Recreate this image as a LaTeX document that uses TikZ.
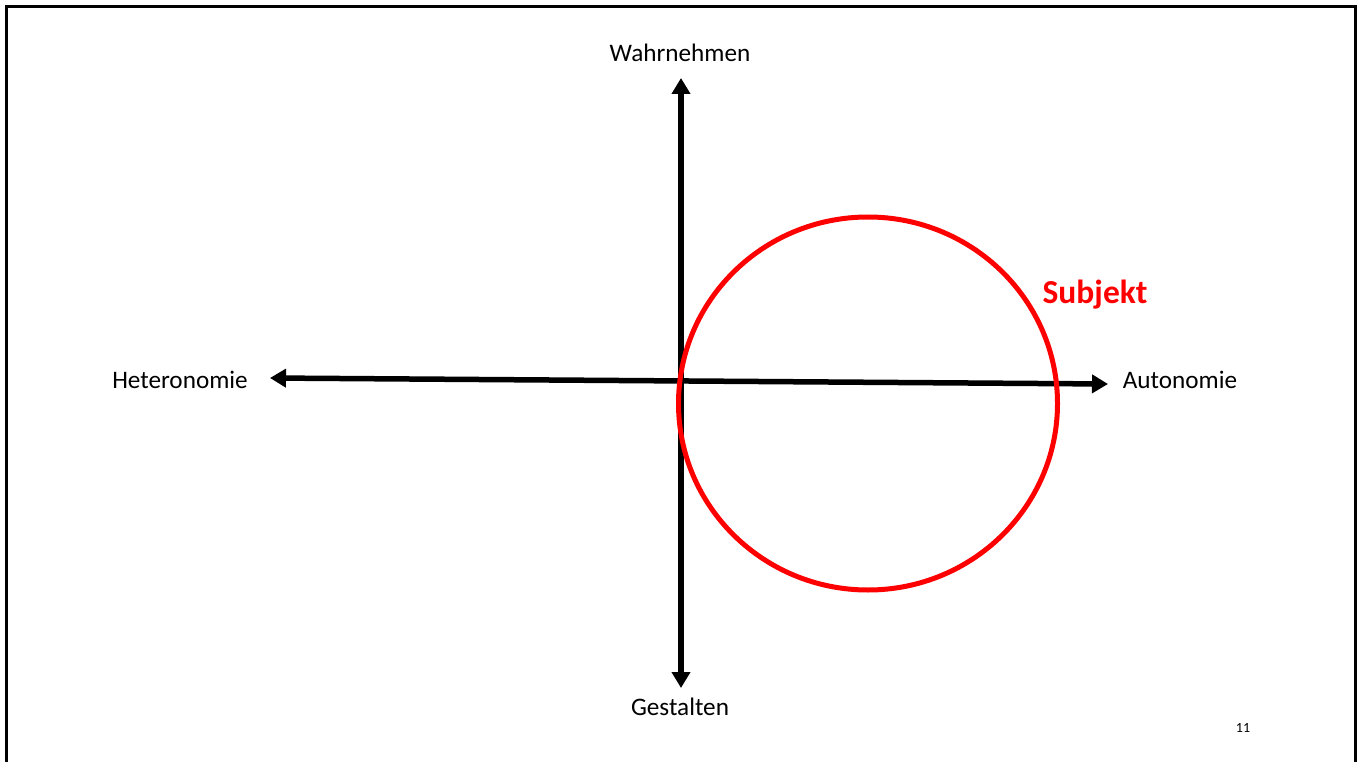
\documentclass[tikz,border=0pt]{standalone}
\usepackage{fontspec}
\setmainfont{Carlito}
\usetikzlibrary{arrows.meta}
\begin{document}
\begin{tikzpicture}[x=1pt,y=-1pt,
  axis/.style={line width=5.5pt,{Triangle[length=16pt,width=18pt]}-{Triangle[length=16pt,width=18pt]}},
  lbl/.style={font=\fontsize{25.2}{29}\selectfont,inner sep=0pt}]
\useasboundingbox (0,0) rectangle (1362,762);
\draw[line width=3pt] (6.5,770) -- (6.5,6.5) -- (1355.5,6.5) -- (1355.5,770);
\node[lbl] (wahr) at (680,53) {Wahrnehmen};
\node[lbl] (gest) at (680,707) {Gestalten};
\node[lbl] (het) at (180,380) {Heteronomie};
\node[lbl] (aut) at (1180,380) {Autonomie};
\node[font=\fontsize{33.5}{38}\selectfont\bfseries,text=red,inner sep=0pt] (subj) at (1095,295) {Subjekt};
\node[font=\fontsize{14}{16}\selectfont,inner sep=0pt] (page) at (1243,728) {11};
\coordinate (top) at (681,78);
\coordinate (bot) at (681,688);
\coordinate (left) at (270,378);
\coordinate (right) at (1108,384);
\draw[axis] (bot) -- (top);
\draw[axis] (left) -- (right);
\draw[red,line width=5pt] (868,403.5) ellipse [x radius=189.5, y radius=186.5];
\end{tikzpicture}
\end{document}
